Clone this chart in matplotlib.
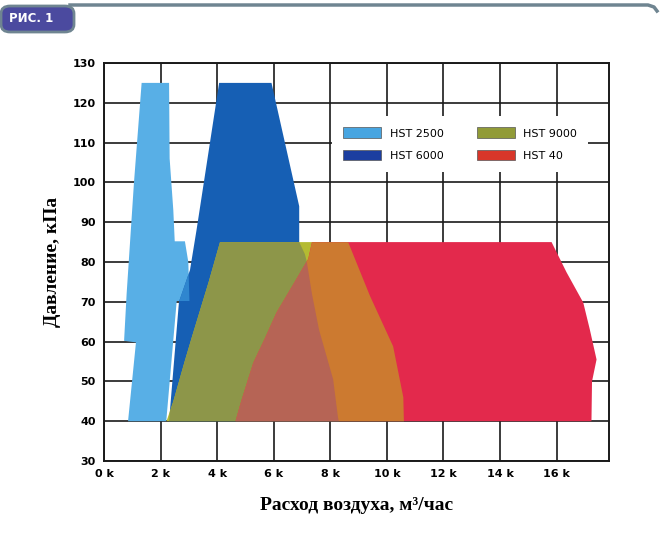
import numpy as np
import matplotlib
matplotlib.use('Agg')
import matplotlib.pyplot as plt
from matplotlib.patches import Polygon, FancyBboxPatch, Patch

# outlines of the working zones, (flow in thousands m3/h, pressure kPa)
hst2500_x = [0.85, 1.13, 0.71, 0.80, 1.06, 1.33, 2.30, 2.32, 2.45, 2.50, 2.86, 2.98, 3.02, 2.57, 2.20]
hst2500_y = [40, 59.8, 60.2, 72, 100, 125, 125, 106, 93, 85.2, 85.2, 80, 70.2, 70.2, 40]

hst6000_x = [2.30, 2.65, 3.04, 3.27, 4.07, 5.92, 6.90, 6.90, 7.10, 7.17, 7.35, 7.60, 8.10, 8.27, 8.30]
hst6000_y = [40, 70, 78, 88, 125, 125, 94, 85, 82, 80, 72, 63, 50.5, 41, 40]

hst9000_x = [2.21, 2.45, 2.65, 2.85, 3.10, 3.40, 3.70, 4.10, 8.63, 9.16, 9.40, 10.22, 10.58, 10.60]
hst9000_y = [40, 45, 50, 55, 61, 68, 75, 85, 85, 75.7, 71.5, 58.8, 46, 40]

hst40_x = [4.65, 4.85, 5.28, 5.70, 6.10, 6.80, 7.22, 7.35, 15.82, 16.35, 16.94, 17.17, 17.41, 17.25, 17.23]
hst40_y = [40, 45, 54.7, 61, 67.3, 75.7, 80.8, 85, 85, 77.4, 69.8, 63.1, 55.5, 50, 40]

names = ['HST 2500', 'HST 6000', 'HST 9000', 'HST 40']
legend_colors = ['#47a5e1', '#1c3ea0', '#919b37', '#d8362a']

x_ticks = [0, 2, 4, 6, 8, 10, 12, 14, 16]
y_ticks = [30, 40, 50, 60, 70, 80, 90, 100, 110, 120, 130]

fig = plt.figure(figsize=(6.6, 5.43), dpi=100)
ax = fig.add_axes([104 / 660, 1 - 461 / 543, 505 / 660, 398 / 543])

def shape(xs, ys):
    return np.column_stack([xs, ys])

p6000 = Polygon(shape(hst6000_x, hst6000_y), closed=True, transform=ax.transData)
p9000 = Polygon(shape(hst9000_x, hst9000_y), closed=True, transform=ax.transData)

# draw each zone, then repaint its overlaps with the blended tone
layers = [
    (hst2500_x, hst2500_y, '#58afe6', None),
    (hst6000_x, hst6000_y, '#165fb4', None),
    (hst2500_x, hst2500_y, '#2f86cf', p6000),
    (hst9000_x, hst9000_y, '#b4bb32', None),
    (hst9000_x, hst9000_y, '#8d9649', p6000),
    (hst40_x, hst40_y, '#e3294c', None),
    (hst40_x, hst40_y, '#cc7a30', p9000),
    (hst40_x, hst40_y, '#b66455', p6000),
]
for i, (xs, ys, col, clip) in enumerate(layers):
    poly = ax.fill(xs, ys, color=col, lw=0, zorder=3 + i * 0.1)[0]
    if clip is not None:
        poly.set_clip_path(clip)

ax.set_xlim(0, 17.85)
ax.set_ylim(30, 130)
ax.set_xticks(x_ticks)
ax.set_xticklabels([f'{v} k' for v in x_ticks], fontsize=8, fontweight='bold')
ax.set_yticks(y_ticks)
ax.set_yticklabels([str(v) for v in y_ticks], fontsize=8, fontweight='bold')
ax.tick_params(length=0, pad=6)
ax.grid(True, color='#1a1a1a', linewidth=1.2, zorder=1)
ax.set_axisbelow(True)
for s in ax.spines.values():
    s.set_color('#1a1a1a')
    s.set_linewidth(1.4)

ax.set_xlabel('Расход воздуха, м³/час', fontsize=14, fontweight='bold',
              family='Liberation Serif', labelpad=13)
ax.set_ylabel('Давление, кПа', fontsize=14, fontweight='bold',
              family='Liberation Serif', labelpad=8)

handles = [Patch(facecolor=c, edgecolor='#555555', linewidth=0.5) for c in legend_colors]
leg = ax.legend(handles, names, ncol=2, loc='upper left', bbox_to_anchor=(0.451, 0.866),
                borderaxespad=0, fontsize=8, frameon=True, fancybox=False, framealpha=1,
                handlelength=3.4, handleheight=1.1, handletextpad=0.8,
                columnspacing=3.0, labelspacing=1.0, borderpad=1.0)
leg.get_frame().set_facecolor('white')
leg.get_frame().set_edgecolor('none')
leg.set_zorder(10)

# page frame with the "РИС. 1" tab
fig.add_artist(plt.Line2D([70 / 660, 648 / 660, 654 / 660, 657 / 660],
                          [1 - 5 / 543, 1 - 5 / 543, 1 - 7 / 543, 1 - 11 / 543],
                          color='#6f8591', linewidth=2.5))
tab = FancyBboxPatch((1 / 660, 1 - 32 / 543), 73 / 660, 26 / 543,
                     boxstyle='round,pad=0,rounding_size=0.014',
                     transform=fig.transFigure, facecolor='#4b4a9f',
                     edgecolor='#6f8591', linewidth=2)
fig.add_artist(tab)
fig.text(9 / 660, 1 - 19 / 543, 'РИС. 1', color='white', fontsize=8.5,
         fontweight='bold', va='center', ha='left')

fig.savefig('out.png', dpi=100)
